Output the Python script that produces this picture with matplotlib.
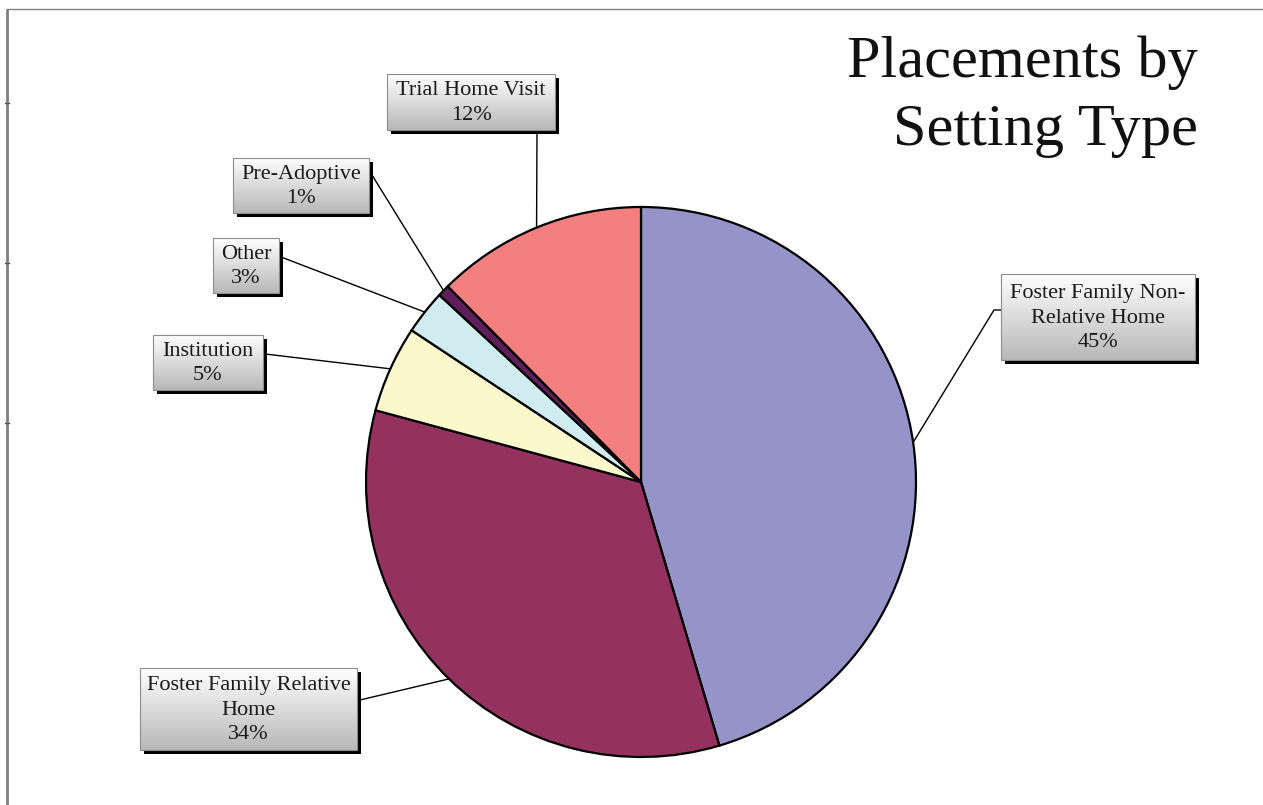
import numpy as np
import matplotlib
matplotlib.use("Agg")
import matplotlib.pyplot as plt
from matplotlib.patches import Rectangle

# ---- data ----
categories = ["Foster Family Non-\nRelative Home", "Foster Family Relative\nHome",
              "Institution", "Other", "Pre-Adoptive", "Trial Home Visit"]
values = [45.4, 33.8, 5.1, 2.6, 0.7, 12.4]
colors = ["#9494C8", "#93325F", "#FBF8CD", "#D1ECF1", "#5E1F5B", "#F47F7F"]
title_lines = ["Placements by", "Setting Type"]

W, H = 1263, 805
fig = plt.figure(figsize=(W / 100, H / 100), dpi=100)
fig.patch.set_facecolor("white")

# pie axes (layout)
cx, cy, R = 641, 482, 275
pad = 300
axp = fig.add_axes([(cx - pad) / W, (H - cy - pad) / H, 2 * pad / W, 2 * pad / H])
wedges, _ = axp.pie(values, colors=colors, startangle=90, counterclock=False,
                    radius=1.0, wedgeprops=dict(edgecolor="black", linewidth=1.6))
lim = pad / R
axp.set_xlim(-lim, lim)
axp.set_ylim(-lim, lim)
axp.set_aspect("equal")
axp.axis("off")

# overlay axes in pixel coords (y down)
ov = fig.add_axes([0, 0, 1, 1], facecolor="none")
ov.set_xlim(0, W)
ov.set_ylim(H, 0)
ov.axis("off")

serif = ["Liberation Serif", "DejaVu Serif"]

# frame
ov.plot([7, 7], [9, H], color="#808080", lw=2.0, solid_capstyle="butt")
ov.plot([7, W], [9, 9], color="#808080", lw=1.0)
for ty in [103, 263, 423]:
    ov.plot([5, 9], [ty, ty], color="#555555", lw=1.0)

# title
ov.text(1198, 77, title_lines[0], ha="right", va="baseline", fontsize=43.5,
        family=serif, color="#111111")
ov.text(1198, 145, title_lines[1], ha="right", va="baseline", fontsize=43.5,
        family=serif, color="#111111")

# label boxes: (x0, ytop, x1, ybottom) and leader start
boxes = [
    (1001, 274, 1195, 360),
    (140, 668, 357, 750),
    (153, 335, 263, 390),
    (213, 238, 279, 293),
    (233, 158, 369, 213),
    (387, 74, 555, 130),
]
starts = [
    [(1001, 310), (994, 310)],
    [(360, 700)],
    [(265, 354)],
    [(281, 257)],
    [(372, 175)],
    [(537, 133)],
]

grad = np.linspace(1.0, 0.72, 256).reshape(-1, 1)
grad_rgb = np.dstack([grad, grad, grad])

def mid_point(w):
    ang = np.deg2rad((w.theta1 + w.theta2) / 2.0)
    x, y = np.cos(ang) * w.r, np.sin(ang) * w.r
    disp = axp.transData.transform((x, y))
    return disp[0], H - disp[1]

for i, (lab, v) in enumerate(zip(categories, values)):
    x0, y0, x1, y1 = boxes[i]
    # leader
    mx, my = mid_point(wedges[i])
    pts = starts[i] + [(mx, my)]
    ov.plot([p[0] for p in pts], [p[1] for p in pts], color="black", lw=1.0, zorder=2)
    # shadow
    ov.add_patch(Rectangle((x0 + 4, y0 + 4), x1 - x0, y1 - y0, facecolor="black",
                           edgecolor="none", zorder=3))
    # gradient
    ov.imshow(grad_rgb, extent=(x0, x1, y1, y0), aspect="auto", zorder=4,
              interpolation="bilinear")
    ov.add_patch(Rectangle((x0, y0), x1 - x0, y1 - y0, facecolor="none",
                           edgecolor="#8c8c8c", lw=0.8, zorder=5))
    txt = f"{lab}\n{round(v):d}%"
    ov.text((x0 + x1) / 2, (y0 + y1) / 2 + 1, txt, ha="center", va="center",
            fontsize=16, family=serif, color="#1a1a1a", linespacing=1.4, zorder=6)

ov.set_xlim(0, W)
ov.set_ylim(H, 0)

fig.savefig("out.png", dpi=100)
